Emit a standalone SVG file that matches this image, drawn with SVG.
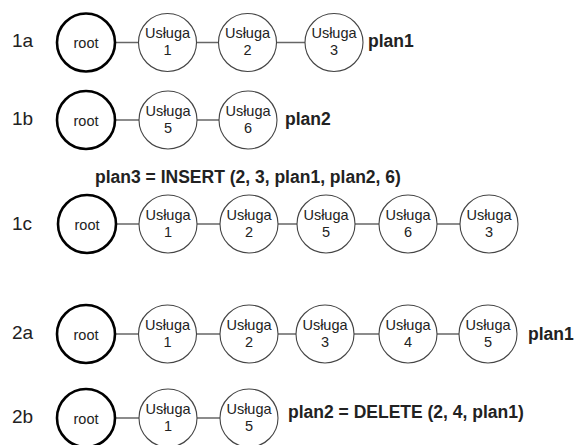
<svg xmlns="http://www.w3.org/2000/svg" width="575" height="445" viewBox="0 0 575 445">
<style>
text{font-family:"Liberation Sans",Arial,sans-serif;fill:#222}
.root{fill:#fff;stroke:#000;stroke-width:2.6}
.svc{fill:#fff;stroke:#444;stroke-width:1.1}
.lbl{font-size:19px}
.nt{font-size:14.5px;text-anchor:middle}
.b{font-weight:bold;font-size:17.5px}
.conn line{stroke:#666;stroke-width:1.5}
</style>
<rect width="575" height="445" fill="#fff"/>
<g class="conn">
<line x1="115" y1="42.5" x2="138" y2="42.5"/>
<line x1="197" y1="42.5" x2="218" y2="42.5"/>
<line x1="277" y1="42.5" x2="305" y2="42.5"/>
<line x1="115" y1="120" x2="139" y2="120"/>
<line x1="197" y1="120" x2="219" y2="120"/>
<line x1="116" y1="224" x2="139" y2="224"/>
<line x1="197" y1="224" x2="220" y2="224"/>
<line x1="278" y1="224" x2="297" y2="224"/>
<line x1="355" y1="224" x2="379" y2="224"/>
<line x1="437" y1="224" x2="460" y2="224"/>
<line x1="115" y1="334" x2="138" y2="334"/>
<line x1="197" y1="334" x2="220" y2="334"/>
<line x1="278" y1="334" x2="296" y2="334"/>
<line x1="354" y1="334" x2="379" y2="334"/>
<line x1="437" y1="334" x2="459" y2="334"/>
<line x1="115" y1="418" x2="139" y2="418"/>
<line x1="197" y1="418" x2="220" y2="418"/>
</g>
<g id="row1a">
<text class="lbl" x="12" y="47">1a</text>
<g id="n1a-root"><circle class="root" cx="86" cy="42.5" r="29"/><text class="nt" x="86" y="48">root</text></g>
<g id="n1a-u1"><circle class="svc" cx="167.5" cy="42.5" r="29"/><text class="nt" x="167.5" y="38">Usługa</text><text class="nt" x="167.5" y="55">1</text></g>
<g id="n1a-u2"><circle class="svc" cx="247.5" cy="42.5" r="29"/><text class="nt" x="247.5" y="38">Usługa</text><text class="nt" x="247.5" y="55">2</text></g>
<g id="n1a-u3"><circle class="svc" cx="334" cy="42.5" r="29"/><text class="nt" x="334" y="38">Usługa</text><text class="nt" x="334" y="55">3</text></g>
<text class="b" x="368" y="47">plan1</text>
</g>
<g id="row1b">
<text class="lbl" x="12" y="125">1b</text>
<g id="n1b-root"><circle class="root" cx="86" cy="120" r="29"/><text class="nt" x="86" y="125.5">root</text></g>
<g id="n1b-u5"><circle class="svc" cx="168" cy="120" r="29"/><text class="nt" x="168" y="115.5">Usługa</text><text class="nt" x="168" y="132.5">5</text></g>
<g id="n1b-u6"><circle class="svc" cx="248" cy="120" r="29"/><text class="nt" x="248" y="115.5">Usługa</text><text class="nt" x="248" y="132.5">6</text></g>
<text class="b" x="285" y="125">plan2</text>
</g>
<text class="b" x="95" y="183">plan3 = INSERT (2, 3, plan1, plan2, 6)</text>
<g id="row1c">
<text class="lbl" x="12" y="230">1c</text>
<g id="n1c-root"><circle class="root" cx="87" cy="224" r="29"/><text class="nt" x="87" y="229.5">root</text></g>
<g id="n1c-u1"><circle class="svc" cx="168" cy="224" r="29"/><text class="nt" x="168" y="219.5">Usługa</text><text class="nt" x="168" y="236.5">1</text></g>
<g id="n1c-u2"><circle class="svc" cx="249" cy="224" r="29"/><text class="nt" x="249" y="219.5">Usługa</text><text class="nt" x="249" y="236.5">2</text></g>
<g id="n1c-u5"><circle class="svc" cx="326" cy="224" r="29"/><text class="nt" x="326" y="219.5">Usługa</text><text class="nt" x="326" y="236.5">5</text></g>
<g id="n1c-u6"><circle class="svc" cx="408" cy="224" r="29"/><text class="nt" x="408" y="219.5">Usługa</text><text class="nt" x="408" y="236.5">6</text></g>
<g id="n1c-u3"><circle class="svc" cx="489" cy="224" r="29"/><text class="nt" x="489" y="219.5">Usługa</text><text class="nt" x="489" y="236.5">3</text></g>
</g>
<g id="row2a">
<text class="lbl" x="12" y="339">2a</text>
<g id="n2a-root"><circle class="root" cx="86" cy="334" r="29"/><text class="nt" x="86" y="339.5">root</text></g>
<g id="n2a-u1"><circle class="svc" cx="167.5" cy="334" r="29"/><text class="nt" x="167.5" y="329.5">Usługa</text><text class="nt" x="167.5" y="346.5">1</text></g>
<g id="n2a-u2"><circle class="svc" cx="249" cy="334" r="29"/><text class="nt" x="249" y="329.5">Usługa</text><text class="nt" x="249" y="346.5">2</text></g>
<g id="n2a-u3"><circle class="svc" cx="325" cy="334" r="29"/><text class="nt" x="325" y="329.5">Usługa</text><text class="nt" x="325" y="346.5">3</text></g>
<g id="n2a-u4"><circle class="svc" cx="408" cy="334" r="29"/><text class="nt" x="408" y="329.5">Usługa</text><text class="nt" x="408" y="346.5">4</text></g>
<g id="n2a-u5"><circle class="svc" cx="488" cy="334" r="29"/><text class="nt" x="488" y="329.5">Usługa</text><text class="nt" x="488" y="346.5">5</text></g>
<text class="b" x="528" y="340">plan1</text>
</g>
<g id="row2b">
<text class="lbl" x="12" y="423">2b</text>
<g id="n2b-root"><circle class="root" cx="86" cy="418" r="29"/><text class="nt" x="86" y="423.5">root</text></g>
<g id="n2b-u1"><circle class="svc" cx="168" cy="418" r="29"/><text class="nt" x="168" y="413.5">Usługa</text><text class="nt" x="168" y="430.5">1</text></g>
<g id="n2b-u5"><circle class="svc" cx="249" cy="418" r="29"/><text class="nt" x="249" y="413.5">Usługa</text><text class="nt" x="249" y="430.5">5</text></g>
<text class="b" x="288" y="418">plan2 = DELETE (2, 4, plan1)</text>
</g>
</svg>
